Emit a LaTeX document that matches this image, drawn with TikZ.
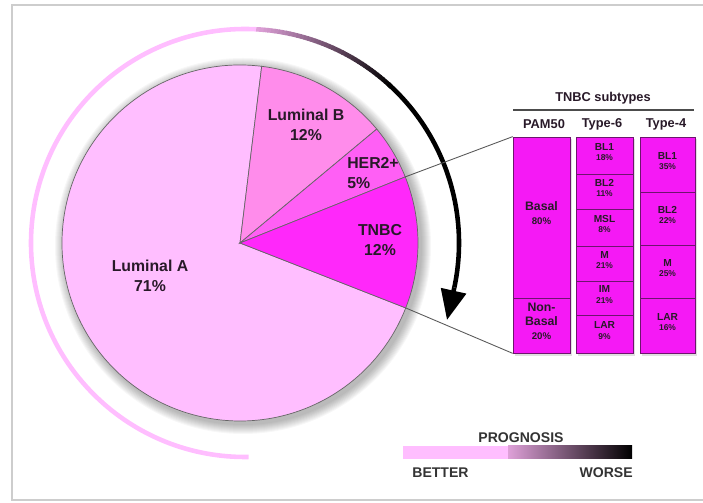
\documentclass[tikz,border=0pt]{standalone}
\usepackage{fontspec}
\setmainfont{Liberation Sans}
\usetikzlibrary{positioning,arrows.meta,calc,fit}

\definecolor{lumA}{RGB}{255,190,255}
\definecolor{lumB}{RGB}{255,140,235}
\definecolor{herTwo}{RGB}{255,95,245}
\definecolor{tnbc}{RGB}{255,40,250}
\definecolor{subfill}{RGB}{245,25,245}
\definecolor{subline}{RGB}{110,20,110}
\definecolor{mauve}{RGB}{222,160,216}
\definecolor{framec}{RGB}{205,205,205}
\definecolor{inkc}{RGB}{40,25,40}

\newcommand{\tnbcsub}[2]{#1\\[-0.5pt]{\fontsize{4.8}{5.5}\selectfont #2}}

\begin{document}
\begin{tikzpicture}[x=0.02cm,y=0.02cm,
    slice/.style={draw=black!60,line width=0.4pt},
    pielabel/.style={font=\bfseries\fontsize{9}{11}\selectfont,text=inkc,align=center},
    prog/.style={line width=2.6pt},
    cell/.style={draw=subline,fill=subfill,line width=0.4pt,inner sep=0pt,align=center,
        text=inkc,font=\bfseries\fontsize{5.8}{6.5}\selectfont},
    head/.style={font=\bfseries\fontsize{7.3}{9}\selectfont,text=inkc},
    progtext/.style={font=\bfseries\fontsize{8}{9}\selectfont,text=black!80,inner sep=0pt},
    zoomline/.style={draw=black!65,line width=0.5pt}]
    \useasboundingbox (0,0) rectangle (703,503);
    \draw[framec,line width=1.1pt] (703,498) -- (12,498) -- (12,3) -- (703,3);

    \coordinate (c) at (240,260);
    \coordinate (oc) at (245,260);
    \coordinate (tip) at (447,183);

    % soft shadow round the pie
    \foreach \k in {1,...,10}
        \fill[black,opacity=0.03] ($(c)+(3,-3)$) circle[radius=178+\k];

    % the pie
    \filldraw[slice,fill=lumA] (c) -- ++(83:178) arc[start angle=83,end angle=338.6,radius=178] -- cycle;
    \filldraw[slice,fill=lumB] (c) -- ++(39.8:178) arc[start angle=39.8,end angle=83,radius=178] -- cycle;
    \filldraw[slice,fill=herTwo] (c) -- ++(21.8:178) arc[start angle=21.8,end angle=39.8,radius=178] -- cycle;
    \filldraw[slice,fill=tnbc] (c) -- ++(-21.4:178) arc[start angle=-21.4,end angle=21.8,radius=178] -- cycle;
    \coordinate (herEdge) at ($(c)+(21.8:178)$);
    \coordinate (lumEdge) at ($(c)+(-21.4:178)$);

    \node[pielabel] (lumAlab) at (150,227) {Luminal A\\71\%};
    \node[pielabel] (lumBlab) at (306,378) {Luminal B\\12\%};
    \node[pielabel,align=left] (herlab) at (373,330) {HER2+\\5\%};
    \node[pielabel] (tnbclab) at (380,263) {TNBC\\12\%};

    % prognosis arc round the pie
    \draw[prog,lumA] (oc) ++(271:214) arc[start angle=271,end angle=87,radius=214];
    \foreach \a [evaluate=\a as \p using {int((87-\a)*100/39)}] in {87,86,...,48}
        \draw[prog,black!\p!mauve] (oc) ++(\a:214) arc[start angle=\a,end angle=\a-1.2,radius=214];
    \draw[prog,black] (oc) ++(48:214) arc[start angle=48,end angle=-12,radius=214] coordinate (arcend);
    \draw[prog,black,-{Triangle[length=0.6cm,width=0.5cm]}] (arcend) -- (tip);

    % TNBC subtypes
    \foreach \xa/\xb in {513/570,576/633,640/695}
        \fill[black,opacity=0.12] (\xa+2,147) rectangle (\xb+2,364);
    \node[head] (subt) at (603,405) {TNBC subtypes};
    \draw[black!70,line width=0.8pt] (513,393) -- (694,393);
    \node[head] (pam) at (544,379) {PAM50};
    \node[head] (six) at (602,379) {Type-6};
    \node[head] (four) at (666,379) {Type-4};

    \node[cell,fit={(513,205) (570,366)},font=\bfseries\fontsize{7}{8}\selectfont] (basal)
        {Basal\\{\fontsize{5.5}{6.5}\selectfont 80\%}};
    \node[cell,fit={(513,150) (570,205)},font=\bfseries\fontsize{7}{8}\selectfont] (nonbasal)
        {Non-\\Basal\\{\fontsize{5.5}{6.5}\selectfont 20\%}};
    \foreach \nm/\ya/\yb/\lab/\pct in {bla/366/329/BL1/18\%,blb/329/294/BL2/11\%,msl/294/257/MSL/8\%,
            mes/257/222/M/21\%,imm/222/188/IM/21\%,lar/188/150/LAR/9\%}
        \node[cell,fit={(576,\yb) (633,\ya)}] (six\nm) {\tnbcsub{\lab}{\pct}};
    \foreach \nm/\ya/\yb/\lab/\pct in {bla/366/311/BL1/35\%,blb/311/258/BL2/22\%,
            mes/258/205/M/25\%,lar/205/150/LAR/16\%}
        \node[cell,fit={(640,\yb) (695,\ya)}] (four\nm) {\tnbcsub{\lab}{\pct}};

    \draw[zoomline] (herEdge) -- (basal.north west);
    \draw[zoomline] (lumEdge) -- (nonbasal.south west);

    % prognosis scale
    \fill[lumA] (403,44) rectangle (508,57);
    \shade[left color=mauve,middle color={rgb,255:red,140;green,60;blue,120},right color=black]
        (508,44) rectangle (632,57);
    \node[progtext] (progn) at (521,65) {PROGNOSIS};
    \node[progtext,anchor=west] (better) at (412,30) {BETTER};
    \node[progtext,anchor=east] (worse) at (633,30) {WORSE};
\end{tikzpicture}
\end{document}
